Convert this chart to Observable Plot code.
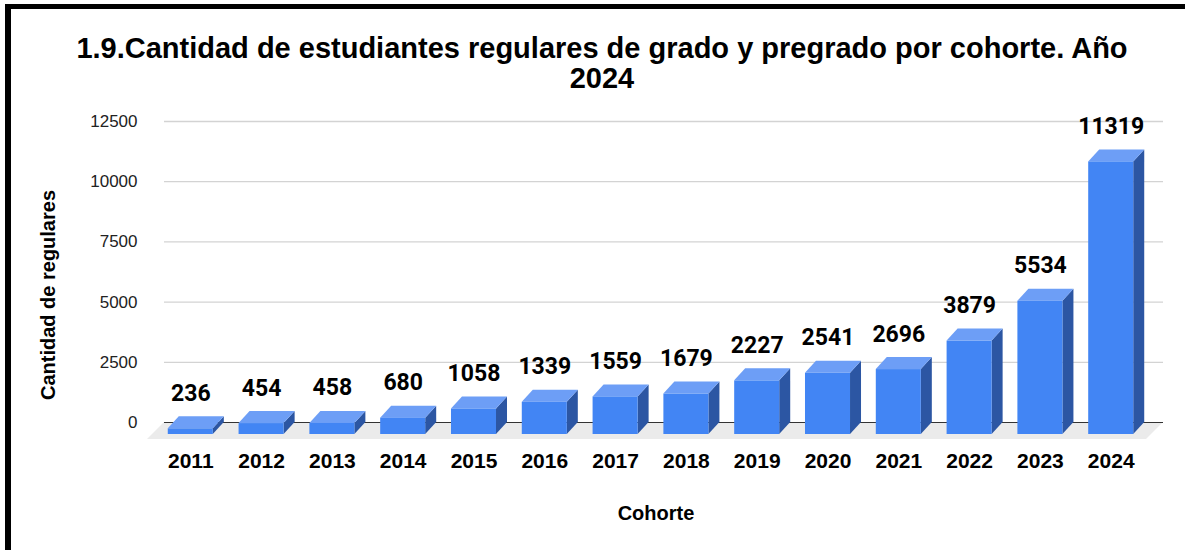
<!DOCTYPE html>
<html>
<head>
<meta charset="utf-8">
<script src="https://cdn.jsdelivr.net/npm/d3@7"></script>
<script src="https://cdn.jsdelivr.net/npm/@observablehq/plot@0.6"></script>
<style>
  html, body { margin: 0; padding: 0; background: #fff; }
  #page { position: relative; width: 1185px; height: 550px; overflow: hidden; background: #fff; }
  #frame { position: absolute; left: 5px; top: 4px; right: 0; bottom: 0;
           border-left: 6px solid #000; border-top: 5px solid #000; }
  #title { position: absolute; left: 0; top: 34px; width: 1204px; text-align: center;
           font-family: "Liberation Sans", Arial, sans-serif; font-weight: bold; font-size: 29px;
           line-height: 29.5px; color: #000; }
  #chart { position: absolute; left: 0; top: 100px; }
</style>
</head>
<body>
<div id="page">
  <div id="frame"></div>
  <div id="title">1.9.Cantidad de estudiantes regulares de grado y pregrado por cohorte. Año<br>2024</div>
  <div id="chart"></div>
</div>
<script>
const years = ["2011","2012","2013","2014","2015","2016","2017","2018","2019","2020","2021","2022","2023","2024"];
const values = [236, 454, 458, 680, 1058, 1339, 1559, 1679, 2227, 2541, 2696, 3879, 5534, 11319];
const yTicks = [0, 2500, 5000, 7500, 10000, 12500];
const xTitle = "Cohorte";
const yTitle = "Cantidad de regulares";

const data = years.map((year, i) => ({year, value: values[i]}));

const DX = 11, DY = 12; // 3D depth offset (pixels)
const frontColor = "#4285f4", topColor = "#6d9ef6", sideColor = "#2c56a3";

function floorMark(index, scales, values, dims) {
  const y0 = scales.y(0);
  const xl = dims.marginLeft, xr = dims.width - dims.marginRight;
  const d = 17;
  const p = d3.create("svg:path")
    .attr("d", `M${xl},${y0}L${xr},${y0}L${xr - d},${y0 + d}L${xl - d},${y0 + d}Z`)
    .attr("fill", "#ebebeb");
  return p.node();
}

function facesMark(index, scales) {
  const g = d3.create("svg:g");
  const bw = scales.x.bandwidth();
  for (const d of data) {
    const bx = scales.x(d.year);
    const yt = scales.y(d.value), yb = scales.y(0);
    g.append("path")
      .attr("d", `M${bx + bw - DX},${yb + DY}L${bx + bw - DX},${yt + DY}L${bx + bw},${yt}L${bx + bw},${yb}Z`)
      .attr("fill", sideColor);
    g.append("path")
      .attr("d", `M${bx - DX},${yt + DY}L${bx + bw - DX},${yt + DY}L${bx + bw},${yt}L${bx},${yt}Z`)
      .attr("fill", topColor);
  }
  return g.node();
}

const chart = Plot.plot({
  width: 1185,
  height: 450,
  marginLeft: 164,
  marginRight: 22,
  marginTop: 21,
  marginBottom: 128,
  style: {background: "transparent", overflow: "visible"},
  x: {type: "band", domain: years, range: [153, 1170], padding: 0.364, round: false, axis: null},
  y: {domain: [0, 12500], axis: null},
  marks: [
    Plot.ruleY(yTicks.filter(t => t > 0), {stroke: "#d3d3d3", strokeWidth: 1.3}),
    floorMark,
    Plot.ruleY([0], {stroke: "#333", strokeWidth: 1.2}),
    facesMark,
    Plot.barY(data, {x: "year", y: "value", fill: frontColor, dx: -DX, dy: DY}),
    Plot.text(data, {x: "year", y: "value", text: d => String(d.value), dx: -DX, dy: -16, lineAnchor: "bottom",
      fontFamily: "Roboto, sans-serif", fontWeight: "bold", fontSize: 23, fill: "#000"}),
    Plot.text(yTicks, {y: d => d, text: d => String(d), frameAnchor: "left", dx: -27, textAnchor: "end",
      fontFamily: "Liberation Sans, Arial, sans-serif", fontSize: 17, fill: "#222"}),
    Plot.text(years, {x: d => d, text: d => d, frameAnchor: "bottom", dx: -DX, dy: 39, lineAnchor: "middle",
      fontFamily: "Liberation Sans, Arial, sans-serif", fontWeight: "bold", fontSize: 21, fill: "#000"}),
    Plot.text([xTitle], {frameAnchor: "bottom", dx: -8, dy: 91, lineAnchor: "middle", textAnchor: "middle", text: d => d,
      fontFamily: "Liberation Sans, Arial, sans-serif", fontWeight: "bold", fontSize: 20, fill: "#000"}),
    Plot.text([yTitle], {frameAnchor: "left", rotate: -90, dx: -116, dy: 23, textAnchor: "middle", lineAnchor: "middle", text: d => d,
      fontFamily: "Liberation Sans, Arial, sans-serif", fontWeight: "bold", fontSize: 20, fill: "#000"})
  ]
});
document.getElementById("chart").appendChild(chart);
</script>
</body>
</html>
